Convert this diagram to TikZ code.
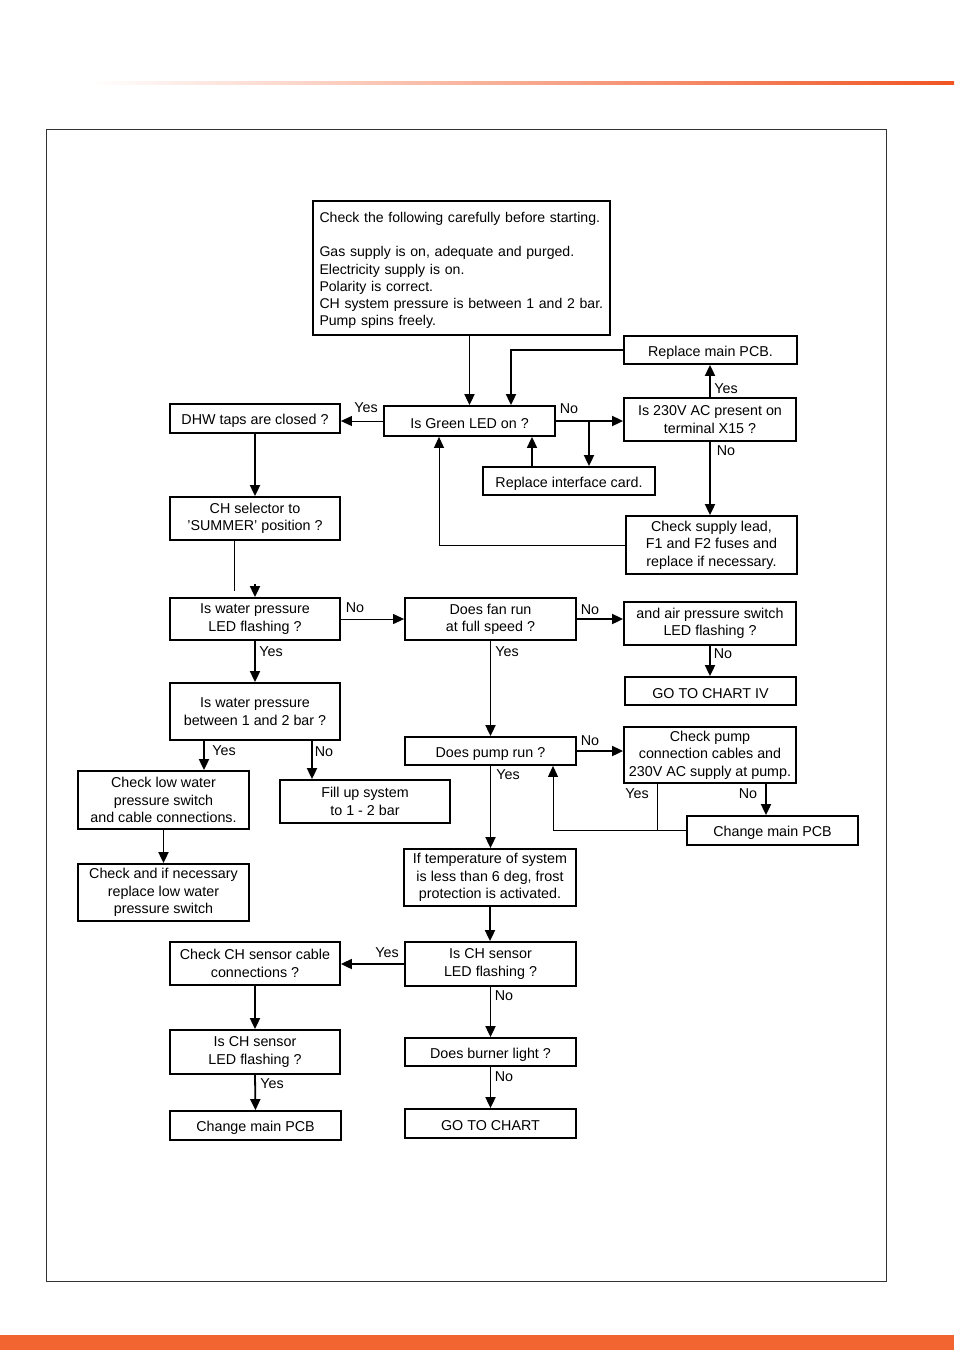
\documentclass[tikz,border=0pt]{standalone}
\usepackage{fontspec}
\setmainfont{Liberation Sans}
\usetikzlibrary{arrows.meta}
\definecolor{brand}{RGB}{242,101,49}
\definecolor{brandline}{RGB}{240,84,34}
\tikzset{
  box/.style={draw, line width=1.8pt, inner sep=2pt, align=center, font=\fontsize{14.3}{17.3}\selectfont,
    execute at begin node={\rule{0pt}{15pt}}},
  conn/.style={line width=1.8pt, -{Triangle[length=11pt,width=10pt]}},
  thinconn/.style={line width=1pt, -{Triangle[length=11pt,width=10pt]}},
  thinline/.style={line width=1pt},
  lbl/.style={inner sep=0pt, font=\fontsize{14.3}{16}\selectfont}
}
\begin{document}
\begin{tikzpicture}[x=1pt,y=-1pt]
\useasboundingbox (0,0) rectangle (954,1350);
% page decorations
\shade[left color=white, right color=brandline] (90,81.5) rectangle (954,84.5);
\fill[brand] (0,1335) rectangle (954,1350);
\draw[line width=1pt, black!80] (46,129) rectangle (886,1281);

% nodes
\node[box, minimum width=297pt, minimum height=134pt, text width=290pt, inner xsep=3.5pt, align=left,
      font=\fontsize{14.1}{17.3}\selectfont] (start) at (461.5,268)
 {\hspace*{3pt}Check the following carefully before starting.\\[17.3pt]
  \hspace*{3pt}Gas supply is on, adequate and purged.\\
  \hspace*{3pt}Electricity supply is on.\\
  \hspace*{3pt}Polarity is correct.\\
  \hspace*{3pt}CH system pressure is between 1 and 2 bar.\\
  \hspace*{3pt}Pump spins freely.};
\node[box, minimum width=173pt, minimum height=28pt] (rpcb) at (710.5,350) {Replace main PCB.};
\node[box, minimum width=171pt, minimum height=30pt] (green) at (469.5,421) {Is Green LED on ?};
\node[box, minimum width=170pt, minimum height=29pt] (dhw) at (255,418.5) {DHW taps are closed ?};
\node[box, minimum width=172pt, minimum height=43pt] (v230) at (710,419.5) {Is 230V AC present on\\terminal X15 ?};
\node[box, minimum width=172pt, minimum height=28pt] (iface) at (569,481) {Replace interface card.};
\node[box, minimum width=171pt, minimum height=58pt] (supply) at (711.5,545) {Check supply lead,\\F1 and F2 fuses and\\replace if necessary.};
\node[box, minimum width=170pt, minimum height=43pt] (summer) at (255,518.5) {CH selector to\\'SUMMER' position ?};
\node[box, minimum width=170pt, minimum height=42pt] (wpled) at (255,619) {Is water pressure\\LED flashing ?};
\node[box, minimum width=171pt, minimum height=42pt] (fan) at (490.5,619) {Does fan run\\at full speed ?};
\node[box, minimum width=172pt, minimum height=43pt] (air) at (710,623.5) {and air pressure switch\\LED flashing ?};
\node[box, minimum width=171pt, minimum height=28pt] (chart4) at (710.5,691) {GO TO CHART IV};
\node[box, minimum width=170pt, minimum height=57pt] (wpbar) at (255,711.5) {Is water pressure\\between 1 and 2 bar ?};
\node[box, minimum width=171pt, minimum height=28pt] (pump) at (490.5,751) {Does pump run ?};
\node[box, minimum width=172pt, minimum height=56pt] (chkpump) at (710,755) {Check pump\\connection cables and\\230V AC supply at pump.};
\node[box, minimum width=171pt, minimum height=58pt] (lowsw) at (163.5,800) {Check low water\\pressure switch\\and cable connections.};
\node[box, minimum width=170pt, minimum height=43pt] (fill) at (365,801.5) {Fill up system\\to 1 - 2 bar};
\node[box, minimum width=171pt, minimum height=29pt] (pcbR) at (772.5,830.5) {Change main PCB};
\node[box, minimum width=171pt, minimum height=57pt] (replsw) at (163.5,892.5) {Check and if necessary\\replace low water\\pressure switch};
\node[box, minimum width=172pt, minimum height=57pt] (temp) at (490,877.5) {If temperature of system\\is less than 6 deg, frost\\protection is activated.};
\node[box, minimum width=170pt, minimum height=43pt] (chcable) at (255,963.5) {Check CH sensor cable\\connections ?};
\node[box, minimum width=171pt, minimum height=44pt] (chledR) at (490.5,964) {Is CH sensor\\LED flashing ?};
\node[box, minimum width=170pt, minimum height=44pt] (chledL) at (255,1052) {Is CH sensor\\LED flashing ?};
\node[box, minimum width=171pt, minimum height=28pt] (burner) at (490.5,1052) {Does burner light ?};
\node[box, minimum width=171pt, minimum height=29pt] (pcbL) at (255.5,1125.5) {Change main PCB};
\node[box, minimum width=171pt, minimum height=29pt] (chart) at (490.5,1123.5) {GO TO CHART};

% helper coordinates
\coordinate (br) at (589,421);

% connectors
\draw[conn] (green.north |- start.south) -- (green.north);
\draw[conn] (rpcb.west) -| ([xshift=41.5pt]green.north);
\draw[thinconn] (green.west) -- (dhw.east |- green.west);
\draw[conn] (green.east) -- (v230.west |- green.east);
\draw[conn] (br) -- (br |- iface.north);
\draw[conn] ([xshift=-37pt]iface.north) -- ([xshift=-37pt]iface.north |- green.south);
\draw[conn] (v230.north) -- (v230.north |- rpcb.south);
\draw[conn] (v230.south) -- (v230.south |- supply.north);
\draw[thinconn] (supply.west) -| ([xshift=-30.5pt]green.south);
\draw[conn] (dhw.south) -- (summer.north);
\draw[thinline] ([xshift=-21pt]summer.south) -- ++(0,50);
\draw[conn] ([yshift=13pt]wpled.north) -- (wpled.north);
\draw[thinconn] (wpled.east) -- (fan.west);
\draw[conn] (wpled.south) -- (wpbar.north);
\draw[conn] (fan.east) -- (air.west |- fan.east);
\draw[conn] (fan.south) -- (pump.north);
\draw[conn] (air.south) -- (air.south |- chart4.north);
\draw[conn] ([xshift=-51pt]wpbar.south) -- ([xshift=-51pt]wpbar.south |- lowsw.north);
\draw[conn] ([xshift=57pt]wpbar.south) -- ([xshift=57pt]wpbar.south |- fill.north);
\draw[conn] (pump.east) -- (chkpump.west |- pump.east);
\draw[conn] (pump.south) -- (pump.south |- temp.north);
\draw[thinline] ([xshift=-53pt]chkpump.south) -- ([xshift=-53pt]chkpump.south |- pcbR.west);
\draw[conn] ([xshift=56pt]chkpump.south) -- ([xshift=56pt]chkpump.south |- pcbR.north);
\draw[thinconn] (pcbR.west) -| ([xshift=62.5pt]pump.south);
\draw[conn] (lowsw.south) -- (replsw.north);
\draw[conn] (temp.south) -- (temp.south |- chledR.north);
\draw[conn] (chledR.west) -- (chcable.east |- chledR.west);
\draw[conn] (chcable.south) -- (chledL.north);
\draw[conn] (chledL.south) -- (pcbL.north);
\draw[conn] (chledR.south) -- (burner.north);
\draw[conn] (burner.south) -- (chart.north);

% labels
\node[lbl] (l1) at (366,408) {Yes};
\node[lbl] (l2) at (569,409) {No};
\node[lbl] (l3) at (726,389) {Yes};
\node[lbl] (l4) at (726,451) {No};
\node[lbl] (l5) at (355,608) {No};
\node[lbl] (l6) at (271,652) {Yes};
\node[lbl] (l7) at (590,610) {No};
\node[lbl] (l8) at (507,652) {Yes};
\node[lbl] (l9) at (723,654) {No};
\node[lbl] (l10) at (224,751) {Yes};
\node[lbl] (l11) at (324,752) {No};
\node[lbl] (l12) at (590,741) {No};
\node[lbl] (l13) at (508,775) {Yes};
\node[lbl] (l14) at (637,794) {Yes};
\node[lbl] (l15) at (748,794) {No};
\node[lbl] (l16) at (387,953) {Yes};
\node[lbl] (l17) at (272,1084) {Yes};
\node[lbl] (l18) at (504,996) {No};
\node[lbl] (l19) at (504,1077) {No};
\end{tikzpicture}
\end{document}
